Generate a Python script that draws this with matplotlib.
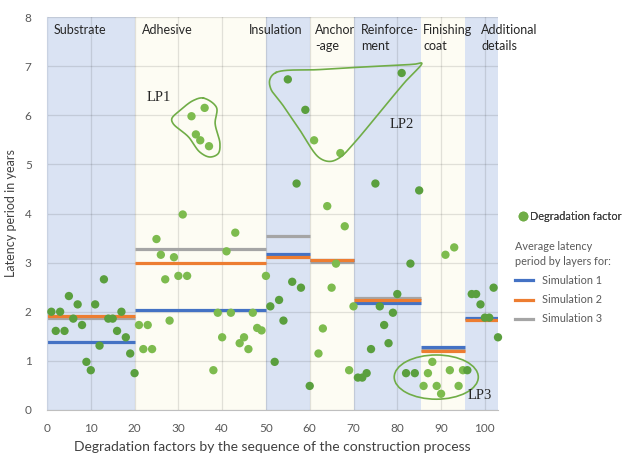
import numpy as np
import matplotlib
matplotlib.use("Agg")
import matplotlib.pyplot as plt
from matplotlib.patches import Ellipse
from matplotlib.lines import Line2D

plt.rcParams['font.family'] = ['Lato', 'DejaVu Sans']

# ---------------- data ----------------
layer_names = ["Substrate", "Adhesive", "Insulation", "Anchor\n-age", "Reinforce-\nment",
               "Finishing\ncoat", "Additional\ndetails"]
layer_edges = [0, 20, 50, 60, 70, 85.5, 95.5, 103]
layer_label_x = [1.4, 21.7, 46.1, 61.2, 71.7, 85.9, 99.2]

sim1 = [1.38, 2.03, 3.18, 3.06, 2.17, 1.28, 1.88]
sim2 = [1.92, 2.99, 3.12, 3.06, 2.24, 1.21, 1.83]
sim3 = [1.88, 3.27, 3.54, 3.01, 2.28, 1.22, 1.85]

factor_x = list(range(1, 104))
factor_y = [2.00, 1.61, 2.00, 1.61, 2.32, 1.86, 2.15, 1.73, 0.98, 0.81,
            2.15, 1.31, 2.66, 1.86, 1.86, 1.61, 2.00, 1.48, 1.15, 0.75,
            1.73, 1.24, 1.73, 1.24, 3.48, 3.16, 2.66, 1.82, 3.11, 2.73,
            3.98, 2.73, 5.98, 5.61, 5.49, 6.15, 5.37, 0.81, 1.98, 1.48,
            3.23, 1.98, 3.61, 1.36, 1.48, 1.24, 1.98, 1.67, 1.62, 2.73,
            2.11, 0.98, 2.24, 1.82, 6.73, 2.61, 4.61, 2.49, 6.11, 0.49,
            5.49, 1.15, 1.66, 4.15, 2.49, 2.98, 5.23, 3.74, 0.81, 2.11,
            0.66, 0.66, 0.75, 1.24, 4.61, 2.11, 1.73, 1.36, 1.98, 2.36,
            6.86, 0.75, 2.98, 0.75, 4.47, 0.49, 0.75, 0.98, 0.49, 0.33,
            3.16, 0.81, 3.31, 0.49, 0.81, 0.81, 2.36, 2.36, 2.15, 1.88,
            1.88, 2.49, 1.48]

# annotation loops (data coordinates)
lp1_x = [35.7, 38.7, 38.4, 39.5, 39.1, 37.2, 34.9, 32.3, 28.8, 28.5, 30.4, 33.4]
lp1_y = [6.35, 6.16, 5.83, 5.42, 5.22, 5.15, 5.25, 5.56, 5.83, 5.93, 6.10, 6.30]
lp2_x = [52.3, 62.3, 73.7, 84.0, 85.6, 81.7, 76.0, 70.3, 66.9, 64.6, 62.1, 57.8, 53.9, 51.1, 50.9]
lp2_y = [6.87, 6.93, 6.99, 7.04, 7.06, 6.67, 6.06, 5.45, 5.14, 5.06, 5.14, 5.69, 6.20, 6.54, 6.73]
lp3_center = (88.9, 0.67)
lp3_size = (19.2, 0.90)
lp_labels = ["LP1", "LP2", "LP3"]
lp_label_pos = [(25.6, 6.36), (81.1, 5.81), (98.9, 0.30)]

# ---------------- styles ----------------
blue_band = "#DAE3F3"
cream_band = "#FDFCF3"
green_dark = "#5A9F3E"
green_light = "#7DBB4E"
line_green = "#70AD47"
c1, c2, c3 = "#4472C4", "#ED7D31", "#A5A5A5"
gray_txt = "#595959"
YS = 11.2  # aspect factor (pixels per y unit / pixels per x unit)


def closed_spline(xs, ys, n=24):
    """Centripetal Catmull-Rom closed curve, computed in screen-like space."""
    pts = np.column_stack([xs, np.array(ys) * YS])
    m = len(pts)
    out = []
    for i in range(m):
        P = [pts[(i - 1) % m], pts[i], pts[(i + 1) % m], pts[(i + 2) % m]]
        t = [0.0]
        for k in range(3):
            t.append(t[-1] + np.linalg.norm(P[k + 1] - P[k]) ** 0.5 + 1e-9)
        tt = np.linspace(t[1], t[2], n, endpoint=False)[:, None]
        A1 = (t[1] - tt) / (t[1] - t[0]) * P[0] + (tt - t[0]) / (t[1] - t[0]) * P[1]
        A2 = (t[2] - tt) / (t[2] - t[1]) * P[1] + (tt - t[1]) / (t[2] - t[1]) * P[2]
        A3 = (t[3] - tt) / (t[3] - t[2]) * P[2] + (tt - t[2]) / (t[3] - t[2]) * P[3]
        B1 = (t[2] - tt) / (t[2] - t[0]) * A1 + (tt - t[0]) / (t[2] - t[0]) * A2
        B2 = (t[3] - tt) / (t[3] - t[1]) * A2 + (tt - t[1]) / (t[3] - t[1]) * A3
        C = (t[2] - tt) / (t[2] - t[1]) * B1 + (tt - t[1]) / (t[2] - t[1]) * B2
        out.append(C)
    out = np.vstack(out + [out[0][:1]])
    return out[:, 0], out[:, 1] / YS


fig = plt.figure(figsize=(6.36, 4.55), dpi=100)
ax = fig.add_axes([47 / 636, 1 - 410 / 455, (498 - 47) / 636, (410 - 17) / 455])
ax.set_xlim(0, 103)
ax.set_ylim(0, 8)

# bands
for i in range(len(layer_names)):
    col = blue_band if i % 2 == 0 else cream_band
    ax.axvspan(layer_edges[i], layer_edges[i + 1], color=col, zorder=0, lw=0)

# grid
ax.set_xticks(range(0, 101, 10))
ax.set_yticks(range(0, 9))
ax.grid(True, color="black", alpha=0.11, lw=0.9, zorder=0.5)
ax.set_axisbelow(True)

# layer lines (gray drawn first, then blue, then orange)
for sims, col, z in [(sim3, c3, 2), (sim1, c1, 2.1), (sim2, c2, 2.2)]:
    for i, v in enumerate(sims):
        ax.plot([layer_edges[i], layer_edges[i + 1]], [v, v], color=col, lw=2.3,
                solid_capstyle="butt", zorder=z)

# points
band_idx = np.searchsorted(layer_edges, np.array(factor_x), side="left") - 1
pcols = [green_dark if b % 2 == 0 else green_light for b in band_idx]
ax.scatter(factor_x, factor_y, s=36, c=pcols, lw=0, zorder=3, clip_on=False)

# loops
for xs, ys in [(lp1_x, lp1_y), (lp2_x, lp2_y)]:
    sx, sy = closed_spline(xs, ys)
    ax.plot(sx, sy, color=line_green, lw=1.2, zorder=4)
ax.add_patch(Ellipse(lp3_center, lp3_size[0], lp3_size[1], fill=False,
                     edgecolor=line_green, lw=1.2, zorder=4))
for lab, (lx, ly) in zip(lp_labels, lp_label_pos):
    ax.text(lx, ly, lab, family="Liberation Serif", fontsize=10.5, color="#262626",
            ha="center", va="center", zorder=5)

# layer names
for name, lx in zip(layer_names, layer_label_x):
    ax.text(lx, 7.86, name, fontsize=9, color="#262626", ha="left", va="top",
            linespacing=1.45, zorder=5)

# axes styling
for s in ["top", "right"]:
    ax.spines[s].set_visible(False)
ax.spines["left"].set_color("#C9D2E2")
ax.spines["bottom"].set_color("#BFBFBF")
ax.tick_params(length=0, labelsize=8.5, labelcolor=gray_txt)
ax.tick_params(axis="x", pad=9)
ax.tick_params(axis="y", pad=11)
ax.set_xlabel("Degradation factors by the sequence of the construction process",
              fontsize=10, color="#404040", labelpad=5.5)
ax.set_ylabel("Latency period in years", fontsize=9, color="#404040", labelpad=6)

# legends
LF = 7.8
h_pt = Line2D([], [], marker="o", ls="none", color=line_green, markersize=6)
leg1 = fig.legend([h_pt], ["Degradation factor"], loc="upper left",
                  bbox_to_anchor=(518 / 636, 1 - 211 / 455), frameon=False, borderpad=0,
                  borderaxespad=0, fontsize=LF, handletextpad=0.15, handlelength=1.0,
                  labelcolor="#404040")
fig.add_artist(leg1)
hl = [Line2D([], [], color=c, lw=2.3) for c in (c1, c2, c3)]
leg2 = fig.legend(hl, ["Simulation 1", "Simulation 2", "Simulation 3"], loc="upper left",
                  bbox_to_anchor=(515 / 636, 1 - 241 / 455), frameon=False, borderpad=0,
                  borderaxespad=0, fontsize=LF, handlelength=1.65, handletextpad=0.8,
                  labelcolor=gray_txt, title="Average latency\nperiod by layers for:",
                  title_fontsize=LF, alignment="left", labelspacing=0.75)
leg2.get_title().set_color(gray_txt)
leg2.get_title().set_linespacing(1.45)

fig.savefig("out.png", dpi=100)
